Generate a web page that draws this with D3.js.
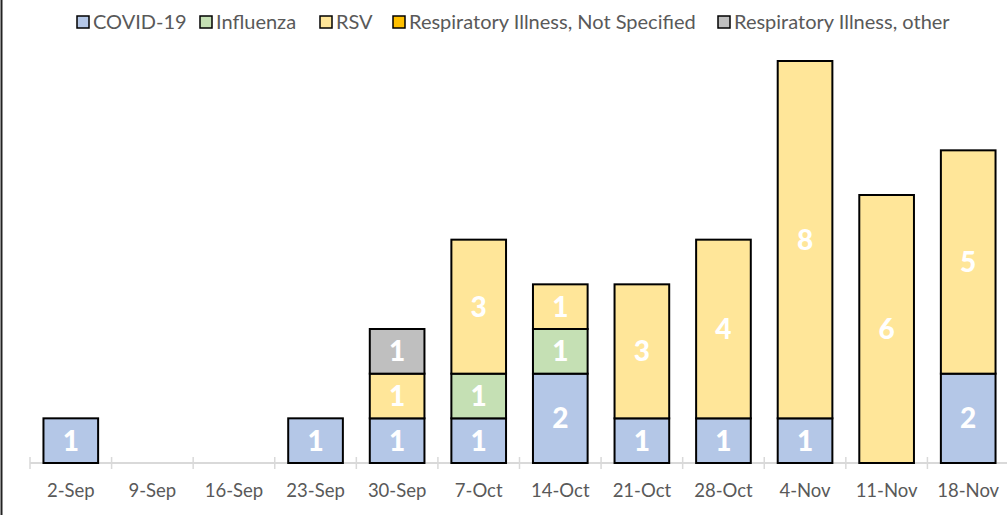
<!DOCTYPE html>
<html>
<head>
<meta charset="utf-8">
<script src="https://cdn.jsdelivr.net/npm/d3@7"></script>
<style>
  body { margin: 0; background: #fff; }
  svg { display: block; }
</style>
</head>
<body>
<div id="chart"></div>
<script>
// data
var weeks = ["2-Sep", "9-Sep", "16-Sep", "23-Sep", "30-Sep", "7-Oct", "14-Oct", "21-Oct", "28-Oct", "4-Nov", "11-Nov", "18-Nov"];
var seriesNames = ["COVID-19", "Influenza", "RSV", "Respiratory Illness, Not Specified", "Respiratory Illness, other"];
var covid = [1, 0, 0, 1, 1, 1, 2, 1, 1, 1, 0, 2];
var influenza = [0, 0, 0, 0, 0, 1, 1, 0, 0, 0, 0, 0];
var rsv = [0, 0, 0, 0, 1, 3, 1, 3, 4, 8, 6, 5];
var notSpecified = [0, 0, 0, 0, 0, 0, 0, 0, 0, 0, 0, 0];
var other = [0, 0, 0, 0, 1, 0, 0, 0, 0, 0, 0, 0];
var colors = ["#b4c7e7", "#c5e0b4", "#ffe699", "#ffc000", "#bfbfbf"];

var W = 1007, H = 515;
var svg = d3.select("#chart").append("svg")
    .attr("width", W)
    .attr("height", H);

// left border of the cropped chart area
svg.append("line")
    .attr("x1", 1.5).attr("x2", 1.5)
    .attr("y1", 0).attr("y2", H)
    .attr("stroke", "#222").attr("stroke-width", 2);

var rows = weeks.map(function(w, i) {
  return {week: w, s0: covid[i], s1: influenza[i], s2: rsv[i], s3: notSpecified[i], s4: other[i]};
});
var keys = ["s0", "s1", "s2", "s3", "s4"];
var stacked = d3.stack().keys(keys)(rows);

var x = d3.scaleBand()
    .domain(weeks)
    .range([30, 1009])
    .paddingInner(0.33)
    .paddingOuter(0.165);

var y = d3.scaleLinear()
    .domain([0, 9])
    .range([463, 61]);

// x axis
var axis = svg.append("g");
axis.append("line")
    .attr("x1", 30).attr("x2", W)
    .attr("y1", y(0)).attr("y2", y(0))
    .attr("stroke", "#d9d9d9").attr("stroke-width", 2);
var step = x.step();
axis.selectAll("line.tick")
  .data(d3.range(weeks.length + 1))
  .enter().append("line")
    .attr("class", "tick")
    .attr("x1", function(i) { return 30 + i * step; })
    .attr("x2", function(i) { return 30 + i * step; })
    .attr("y1", y(0) - 6).attr("y2", y(0) + 6)
    .attr("stroke", "#d9d9d9").attr("stroke-width", 1.5);
axis.selectAll("text")
  .data(weeks)
  .enter().append("text")
    .attr("x", function(d) { return x(d) + x.bandwidth() / 2; })
    .attr("y", 497)
    .attr("text-anchor", "middle")
    .attr("font-family", "Lato, 'Open Sans', sans-serif")
    .attr("font-size", 18.5)
    .attr("fill", "#595959")
    .text(function(d) { return d; });

// bars
var layers = svg.append("g").selectAll("g")
  .data(stacked)
  .enter().append("g")
    .attr("fill", function(d, i) { return colors[i]; });

layers.selectAll("rect")
  .data(function(d) { return d.filter(function(s) { return s[1] - s[0] > 0; }); })
  .enter().append("rect")
    .attr("x", function(d) { return x(d.data.week); })
    .attr("y", function(d) { return y(d[1]); })
    .attr("width", x.bandwidth())
    .attr("height", function(d) { return y(d[0]) - y(d[1]); })
    .attr("stroke", "#000")
    .attr("stroke-width", 2);

layers.selectAll("text")
  .data(function(d) { return d.filter(function(s) { return s[1] - s[0] > 0; }); })
  .enter().append("text")
    .attr("x", function(d) { return x(d.data.week) + x.bandwidth() / 2; })
    .attr("y", function(d) { return (y(d[0]) + y(d[1])) / 2; })
    .attr("dy", "0.36em")
    .attr("text-anchor", "middle")
    .attr("font-family", "Lato, 'Open Sans', sans-serif")
    .attr("font-weight", "900")
    .attr("font-size", 28)
    .attr("fill", "#fff")
    .text(function(d) { return d[1] - d[0]; });

// legend
var legendX = [77, 200, 320, 393, 718];
var legend = svg.append("g").selectAll("g")
  .data(seriesNames)
  .enter().append("g")
    .attr("transform", function(d, i) { return "translate(" + legendX[i] + ",22)"; });
legend.append("rect")
    .attr("x", 0).attr("y", -6)
    .attr("width", 12).attr("height", 12)
    .attr("fill", function(d, i) { return colors[i]; })
    .attr("stroke", "#000").attr("stroke-width", 1.5);
legend.append("text")
    .attr("x", 16)
    .attr("dy", "0.35em")
    .attr("font-family", "Lato, 'Open Sans', sans-serif")
    .attr("font-size", 20)
    .attr("fill", "#595959")
    .text(function(d) { return d; });
</script>
</body>
</html>
